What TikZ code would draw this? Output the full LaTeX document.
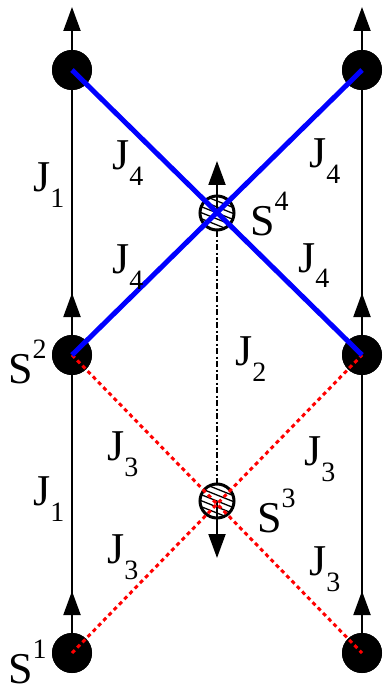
\documentclass[tikz,border=0pt]{standalone}
\usepackage{fontspec}
\setmainfont{Liberation Serif}
\usetikzlibrary{arrows.meta}
\newcommand\Jlab[1]{J\raisebox{-16pt}{\fontsize{28}{28}\selectfont #1}}
\newcommand\Slab[1]{S\raisebox{25pt}{\fontsize{28}{28}\selectfont #1}}
\tikzset{
  bigdot/.style={circle, fill=black, minimum size=40pt, inner sep=0pt},
  hatchdot/.style={circle, minimum size=36pt, inner sep=0pt},
  vline/.style={line width=1.5pt, black},
  arr/.style={line width=2pt, black, -{Triangle[length=24pt,width=17pt]}},
  ddline/.style={line width=2.5pt, black, dash pattern=on 6pt off 2.5pt on 2pt off 2.5pt},
  blueline/.style={line width=5pt, blue},
  redline/.style={line width=3pt, red, dash pattern=on 4pt off 3.5pt},
  lab/.style={anchor=base west, inner sep=0pt, font=\fontsize{44}{44}\selectfont},
}
\begin{document}
\begin{tikzpicture}[x=1pt,y=-1pt]
\useasboundingbox (0,0) rectangle (390,692);
% dots
\node[bigdot] (TL) at (72,70) {};
\node[bigdot] (ML) at (72,355) {};
\node[bigdot] (BL) at (72,653) {};
\node[bigdot] (TR) at (362,70) {};
\node[bigdot] (MR) at (362,355) {};
\node[bigdot] (BR) at (362,653) {};
\node[hatchdot] (S4) at (217,213) {};
\node[hatchdot] (S3) at (217,501) {};
\coordinate (tTL) at (72,7);
\coordinate (tML) at (72,293);
\coordinate (tBL) at (72,591);
\coordinate (tTR) at (362,7);
\coordinate (tMR) at (362,293);
\coordinate (tBR) at (362,591);
\coordinate (tS4) at (217,161);
\coordinate (tS3) at (217,558);
% vertical lines
\draw[vline] (TL.center) -- (BL.center);
\draw[vline] (TR.center) -- (BR.center);
\draw[arr] (TL.center) -- (tTL);
\draw[arr] (ML.center) -- (tML);
\draw[arr] (BL.center) -- (tBL);
\draw[arr] (TR.center) -- (tTR);
\draw[arr] (MR.center) -- (tMR);
\draw[arr] (BR.center) -- (tBR);
% re-fill dots over lines
\foreach \n in {TL,ML,BL,TR,MR,BR}{\fill (\n) circle (20pt);}
% hatched circles
\foreach \n in {S4,S3}{
  \begin{scope}
    \clip (\n.center) circle (17pt);
    \foreach \k in {-48,-42,...,48}{
      \draw[line width=1.3pt] ([xshift=-30pt,yshift=-\k pt+12pt]\n.center) -- ([xshift=30pt,yshift=-\k pt-12pt]\n.center);
    }
  \end{scope}
  \draw[line width=3pt] (\n.center) circle (17pt);
}
% middle line
\draw[ddline] (S4.south) -- (S3.north);
\draw[arr] (S4.center) -- (tS4);
\draw[arr] (S3.center) -- (tS3);
% coloured couplings
\draw[redline] (ML.center) -- (BR.center);
\draw[redline] (BL.center) -- (MR.center);
\draw[blueline] (TL.center) -- (MR.center);
\draw[blueline] (ML.center) -- (TR.center);
% labels
\node[lab] (j1a) at (33,192) {\Jlab{1}};
\node[lab] (j1b) at (33,505) {\Jlab{1}};
\node[lab] (j2) at (235,365) {\Jlab{2}};
\node[lab] (j4a) at (112,170) {\Jlab{4}};
\node[lab] (j4b) at (112,273) {\Jlab{4}};
\node[lab] (j4c) at (309,168) {\Jlab{4}};
\node[lab] (j4d) at (298,272) {\Jlab{4}};
\node[lab] (j3a) at (107,460) {\Jlab{3}};
\node[lab] (j3b) at (107,563) {\Jlab{3}};
\node[lab] (j3c) at (304,465) {\Jlab{3}};
\node[lab] (j3d) at (309,575) {\Jlab{3}};
\node[lab] (s4) at (250,236) {\Slab{4}};
\node[lab] (s3) at (257,532) {\Slab{3}};
\node[lab] (s2) at (8,383) {\Slab{2}};
\node[lab] (s1) at (8,683) {\Slab{1}};
\end{tikzpicture}
\end{document}
